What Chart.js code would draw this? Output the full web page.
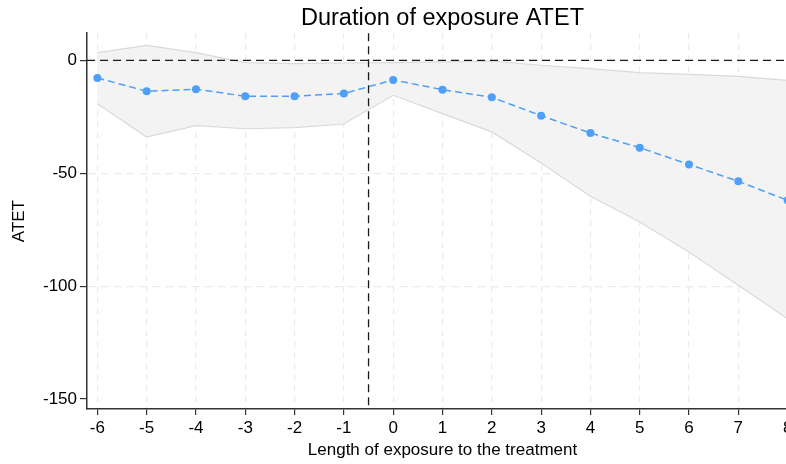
<!DOCTYPE html>
<html>
<head>
<meta charset="utf-8">
<script src="https://cdn.jsdelivr.net/npm/chart.js@4.4.1/dist/chart.umd.min.js"></script>
<style>
  html, body { margin: 0; padding: 0; background: #fff; overflow: hidden; }
</style>
</head>
<body>
<canvas id="chart" width="810" height="464"></canvas>
<script>
// event time (length of exposure)
const periods = [-6, -5, -4, -3, -2, -1, 0, 1, 2, 3, 4, 5, 6, 7, 8];
const atet    = [-7.8, -13.7, -12.8, -15.9, -15.9, -14.7, -8.7, -13.0, -16.4, -24.5, -32.2, -38.7, -46.1, -53.6, -62.0];
const ciUpper = [3.4, 6.6, 3.4, -1.0, -1.5, -1.2, -1.0, -0.7, -0.4, -2.2, -3.7, -5.5, -6.2, -7.1, -8.9];
const ciLower = [-19.2, -34.0, -28.9, -30.3, -29.8, -28.2, -15.5, -23.6, -31.7, -45.5, -60.2, -71.6, -84.9, -99.6, -114.4];

const xTicks = periods;
const yTicks = [-150, -100, -50, 0];
const treatLine = -0.5;
const zeroLine = 0;

Chart.defaults.font.family = "'Liberation Sans', Arial, Helvetica, sans-serif";
Chart.defaults.color = "#000";

function pts(vals) {
    return periods.map((p, i) => ({ x: p, y: vals[i] }));
}

/**
 * Reference lines (zero effect, treatment start)
 */
const refLines = {
    id: "refLines",
    beforeDatasetDraw(chart, args) {
        // draw just before the ATET line so the band sits below and the markers on top
        if (args.index !== 2) return;
        const { ctx, chartArea: a, scales: { x, y } } = chart;
        ctx.save();
        ctx.strokeStyle = "#1a1a1a";
        ctx.lineWidth = 1.3;
        ctx.setLineDash([8, 5]);
        const y0 = y.getPixelForValue(zeroLine);
        ctx.beginPath();
        ctx.moveTo(a.left, y0);
        ctx.lineTo(a.right, y0);
        ctx.stroke();
        const xv = x.getPixelForValue(treatLine);
        ctx.beginPath();
        ctx.moveTo(xv, a.top);
        ctx.lineTo(xv, a.bottom);
        ctx.stroke();
        ctx.restore();
    }
};

new Chart(document.getElementById("chart"), {
    type: "line",
    data: {
        datasets: [
            {
                label: "upper",
                data: pts(ciUpper),
                borderColor: "#dadada",
                borderWidth: 1.2,
                backgroundColor: "#f3f3f3",
                pointRadius: 0,
                fill: "+1",
                tension: 0,
                order: 2
            },
            {
                label: "lower",
                data: pts(ciLower),
                borderColor: "#dadada",
                borderWidth: 1.2,
                pointRadius: 0,
                fill: false,
                tension: 0,
                order: 1
            },
            {
                label: "ATET",
                data: pts(atet),
                borderColor: "#4f9ff8",
                borderWidth: 1.5,
                borderDash: [7, 4],
                pointRadius: 4,
                pointBackgroundColor: "#4f9ff8",
                pointBorderWidth: 0,
                fill: false,
                tension: 0,
                order: 0
            }
        ]
    },
    options: {
        responsive: false,
        animation: false,
        layout: { padding: { left: 0, right: 12, top: 0, bottom: 0 } },
        plugins: {
            legend: { display: false },
            tooltip: { enabled: false },
            title: {
                display: true,
                fullSize: false,
                text: "Duration of exposure ATET",
                color: "#000",
                font: { size: 23.5, weight: "normal", lineHeight: 1.2 },
                padding: { top: 4, bottom: 1 }
            }
        },
        scales: {
            x: {
                type: "linear",
                min: -6.21,
                max: 8.21,
                afterBuildTicks: s => { s.ticks = xTicks.map(v => ({ value: v })); },
                afterFit: s => { s.height = 55; },
                ticks: { font: { size: 17 }, color: "#000", padding: 3 },
                grid: { color: "#ebebeb", lineWidth: 1.2, tickColor: "#333", tickLength: 6, tickWidth: 1.2 },
                border: { display: true, color: "#333", width: 1.5, dash: [6, 5] },
                title: {
                    display: true,
                    text: "Length of exposure to the treatment",
                    color: "#000",
                    font: { size: 17, lineHeight: 1.2 },
                    padding: { top: 0, bottom: 3 }
                }
            },
            y: {
                min: -154.4,
                max: 12,
                afterBuildTicks: s => { s.ticks = yTicks.map(v => ({ value: v })); },
                afterFit: s => { s.width = 87; },
                ticks: { font: { size: 17 }, color: "#000", padding: 3 },
                grid: {
                    color: c => (c.tick && c.tick.value === -150 ? "rgba(0,0,0,0)" : "#ebebeb"),
                    lineWidth: 1.2,
                    tickColor: "#333",
                    tickLength: 7,
                    tickWidth: 1.2
                },
                border: { display: true, color: "#333", width: 1.5, dash: [8, 5] },
                title: {
                    display: true,
                    text: "ATET",
                    color: "#000",
                    font: { size: 17, lineHeight: 1.2 },
                    padding: { top: 9, bottom: 0 }
                }
            }
        }
    },
    plugins: [refLines]
});
</script>
</body>
</html>
